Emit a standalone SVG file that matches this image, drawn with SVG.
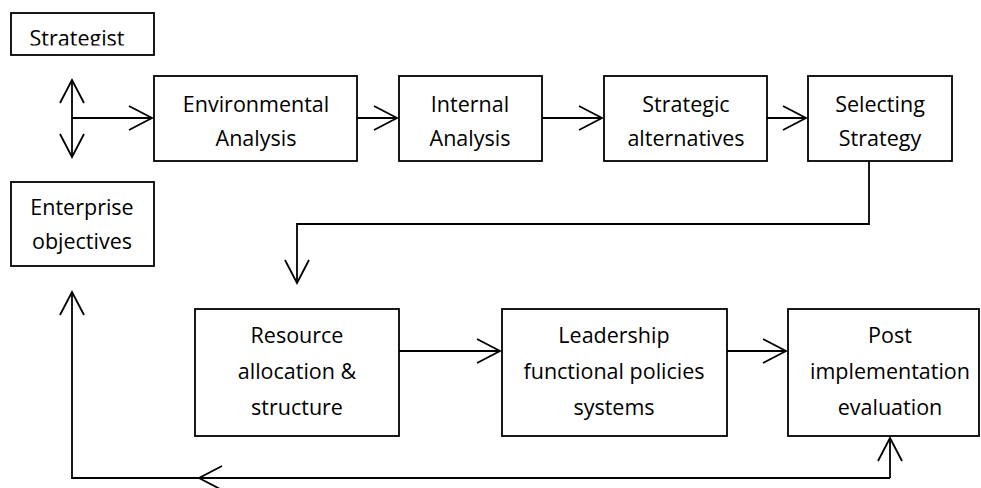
<svg xmlns="http://www.w3.org/2000/svg" width="981" height="488" viewBox="0 0 981 488">
<style>
.box{fill:#fff;stroke:#000;stroke-width:1.8}
.t{font-family:"Open Sans","Liberation Sans",sans-serif;font-size:21.5px;fill:#000;text-anchor:middle}
.c{fill:none;stroke:#000;stroke-width:1.8}
</style>
<defs>
<marker id="ah" viewBox="0 0 26 26" refX="24" refY="13" markerWidth="26" markerHeight="26" markerUnits="userSpaceOnUse" orient="auto">
<path d="M1,1 L24,13 L1,25" fill="none" stroke="#000" stroke-width="1.8"/>
</marker>
<clipPath id="sclip"><rect x="0" y="0" width="160" height="45.5"/></clipPath>
</defs>
<rect width="981" height="488" fill="#fff"/>
<g id="strategist">
<rect class="box" x="11" y="13" width="143" height="42"/>
<text class="t" x="77" y="45.5" clip-path="url(#sclip)">Strategist</text>
</g>
<g id="enterprise">
<rect class="box" x="11" y="182" width="143" height="84"/>
<text class="t" x="82" y="215">Enterprise</text>
<text class="t" x="82" y="249">objectives</text>
</g>
<g id="environmental">
<rect class="box" x="154" y="76" width="203" height="85"/>
<text class="t" x="256" y="112">Environmental</text>
<text class="t" x="256" y="146">Analysis</text>
</g>
<g id="internal">
<rect class="box" x="399" y="76" width="143" height="85"/>
<text class="t" x="470" y="112">Internal</text>
<text class="t" x="470" y="146">Analysis</text>
</g>
<g id="strategic">
<rect class="box" x="604" y="76" width="163" height="85"/>
<text class="t" x="686" y="112">Strategic</text>
<text class="t" x="686" y="146">alternatives</text>
</g>
<g id="selecting">
<rect class="box" x="808" y="76" width="144" height="85"/>
<text class="t" x="880" y="112">Selecting</text>
<text class="t" x="880" y="146">Strategy</text>
</g>
<g id="resource">
<rect class="box" x="195" y="309" width="204" height="127"/>
<text class="t" x="297" y="343">Resource</text>
<text class="t" x="297" y="379">allocation &amp;</text>
<text class="t" x="297" y="415">structure</text>
</g>
<g id="leadership">
<rect class="box" x="502" y="309" width="225" height="127"/>
<text class="t" x="614" y="343">Leadership</text>
<text class="t" x="614" y="379">functional policies</text>
<text class="t" x="614" y="415">systems</text>
</g>
<g id="post">
<rect class="box" x="788" y="309" width="191" height="127"/>
<text class="t" x="890" y="343">Post</text>
<text class="t" x="890" y="379">implementation</text>
<text class="t" x="890" y="415">evaluation</text>
</g>
<g id="connectors">
<path class="c" d="M72,118 L72,80" marker-end="url(#ah)"/>
<path class="c" d="M72,118 L72,157" marker-end="url(#ah)"/>
<path class="c" d="M72,118 L152,118" marker-end="url(#ah)"/>
<path class="c" d="M357,118 L397,118" marker-end="url(#ah)"/>
<path class="c" d="M542,118 L602,118" marker-end="url(#ah)"/>
<path class="c" d="M767,118 L806,118" marker-end="url(#ah)"/>
<path class="c" d="M869,161 L869,224 L297,224 L297,283" marker-end="url(#ah)"/>
<path class="c" d="M399,351 L500,351" marker-end="url(#ah)"/>
<path class="c" d="M727,351 L786,351" marker-end="url(#ah)"/>
<path class="c" d="M890,478 L890,438" marker-end="url(#ah)"/>
<path class="c" d="M890,478 L199,478" marker-end="url(#ah)"/>
<path class="c" d="M199,478 L72,478 L72,292" marker-end="url(#ah)"/>
</g>
</svg>
